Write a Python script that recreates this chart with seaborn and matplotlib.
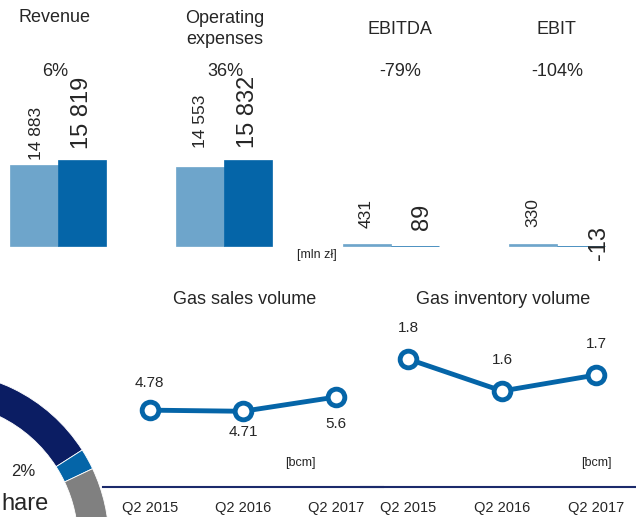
import numpy as np
import pandas as pd
import matplotlib
matplotlib.use('Agg')
import matplotlib.pyplot as plt
import seaborn as sns

sns.set_style('white')
plt.rcParams['font.family'] = ['Liberation Sans', 'DejaVu Sans']

# ==========================
# Data
# ==========================

# Financial results [mln zl]
metrics = ['Revenue', 'Operating\nexpenses', 'EBITDA', 'EBIT']
periods = ['Q2 2016', 'Q2 2017']
values_prev = [14883, 14553, 431, 330]
values_curr = [15819, 15832, 89, -13]
prev_labels = ['14 883', '14 553', '431', '330']
curr_labels = ['15 819', '15 832', '89', '-13']
changes = ['6%', '36%', '-79%', '-104%']

# Volumes [bcm]
quarters = ['Q2 2015', 'Q2 2016', 'Q2 2017']
sales_volume = [4.78, 4.71, 5.6]
inventory_volume = [1.8, 1.6, 1.7]
sales_labels = ['4.78', '4.71', '5.6']
inventory_labels = ['1.8', '1.6', '1.7']

# Share ring (only a part is visible)
share_values = [70, 2, 28]

# Colours
light_blue = '#6EA5CB'
dark_blue = '#0565A8'
navy = '#0B1D63'
line_navy = '#1B2A6B'
grey = '#808080'

W, H = 636, 517


def fx(px):
    return px / W


def fy(py):
    return 1 - py / H


fig = plt.figure(figsize=(W / 100, H / 100), dpi=100)

# ==========================
# Share ring (bottom left)
# ==========================
R = 170
cx, cy = -61, 541.6
ax_pie = fig.add_axes([fx(cx - R), fy(cy + R), 2 * R / W, 2 * R / H])
ax_pie.pie(share_values, colors=[navy, dark_blue, grey], startangle=284.6,
           counterclock=False,
           wedgeprops=dict(width=31 / R, edgecolor='white', linewidth=0.6))
ax_pie.set_xlim(-1, 1)
ax_pie.set_ylim(-1, 1)
ax_pie.axis('off')

fig.text(fx(23), fy(472), '2%', fontsize=12, ha='center', va='center')
fig.text(fx(1), fy(515), 'hare', fontsize=17, ha='left', va='bottom')

# ==========================
# Bars (top)
# ==========================
scale = 184  # mln zl per pixel
ax = fig.add_axes([0, fy(256), 1, 256 / H])
df = pd.DataFrame({
    'metric': metrics * 2,
    'period': [periods[0]] * 4 + [periods[1]] * 4,
    'value': values_prev + values_curr,
})
sns.barplot(data=df, x='metric', y='value', hue='period',
            palette=[light_blue, dark_blue], saturation=1, width=0.577, gap=0,
            errorbar=None, legend=False, ax=ax)
for bar in ax.patches:
    bar.set_edgecolor(bar.get_facecolor())
    bar.set_linewidth(0.5)
ax.set_xlim(-0.349, 3.476)
ax.set_ylim(-10 * scale, 246 * scale)
ax.axis('off')

# value labels (pixel offsets from bar end)
prev_pads = [(2, 5), (0, 19), (0, 16), (0, 17)]
curr_pads = [(0, 11), (0, 12), (7, 16), (18, -14)]
for container, labels, size, pads in zip(ax.containers, [prev_labels, curr_labels],
                                         [12.5, 17], [prev_pads, curr_pads]):
    for bar, lab, pad in zip(container, labels, pads):
        x = bar.get_x() + bar.get_width() / 2
        y = bar.get_y() + bar.get_height()
        ax.annotate(lab, (x, y), xytext=pad, textcoords='offset pixels',
                    rotation=90, ha='center', va='bottom', fontsize=size)

# titles and changes
fig.text(fx(55), fy(17), 'Revenue', fontsize=13, ha='center', va='center')
fig.text(fx(225), fy(29), 'Operating\nexpenses', fontsize=13, ha='center',
         va='center', linespacing=1.3)
fig.text(fx(400), fy(30), 'EBITDA', fontsize=13, ha='center', va='center')
fig.text(fx(556), fy(29), 'EBIT', fontsize=13, ha='center', va='center')
for xp, txt in zip([55, 225, 400, 557], changes):
    fig.text(fx(xp), fy(72), txt, fontsize=13, ha='center', va='center')
fig.text(fx(317), fy(255), '[mln zł]', fontsize=9, ha='center', va='center')

# ==========================
# Volumes (bottom)
# ==========================


def volume_panel(left, width, values, labels, ylim, offsets, title, title_x):
    axv = fig.add_axes([fx(left), fy(487), width / W, 190 / H])
    axv.patch.set_alpha(0)
    sns.lineplot(x=np.arange(len(values)), y=values, color=dark_blue,
                 linewidth=3.5, marker='o', markersize=12,
                 markerfacecolor='white', markeredgecolor=dark_blue,
                 markeredgewidth=3.5, ax=axv)
    axv.set_xlim(-0.5, 2.5)
    axv.set_ylim(*ylim)
    axv.set_xticks(np.arange(len(quarters)))
    axv.set_xticklabels(quarters, fontsize=10.5)
    axv.set_yticks([])
    axv.set_xlabel('')
    axv.set_ylabel('')
    for side in ['top', 'left', 'right']:
        axv.spines[side].set_visible(False)
    axv.spines['bottom'].set_color(line_navy)
    axv.spines['bottom'].set_linewidth(1.5)
    axv.tick_params(axis='x', length=0, pad=10)
    for i, (v, lab, off) in enumerate(zip(values, labels, offsets)):
        axv.annotate(lab, (i, v), xytext=(0, off), textcoords='offset pixels',
                     ha='center', va='center', fontsize=11)
    fig.text(fx(title_x), fy(300), title, fontsize=13, ha='center', va='center')
    return axv


volume_panel(103, 280, sales_volume, sales_labels, (0, 190 * 0.0622),
             [27, -21, -27], 'Gas sales volume', 245)
volume_panel(361, 282, inventory_volume, inventory_labels, (1.0, 1.0 + 190 * 0.00625),
             [31, 31, 31], 'Gas inventory volume', 503)

fig.text(fx(300), fy(463), '[bcm]', fontsize=9, ha='center', va='center')
fig.text(fx(596), fy(463), '[bcm]', fontsize=9, ha='center', va='center')

fig.savefig('out.png', dpi=100)
